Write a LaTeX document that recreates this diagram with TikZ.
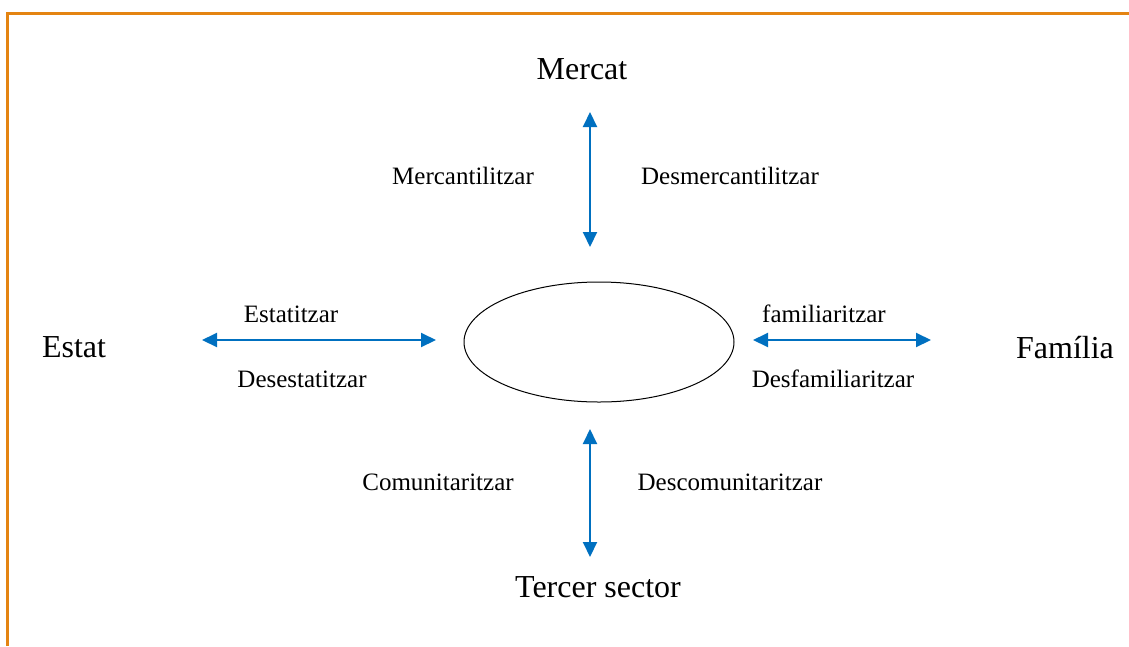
\documentclass[tikz,border=0pt]{standalone}
\usepackage{fontspec}
\setmainfont{Liberation Serif}
\usetikzlibrary{arrows.meta,shapes.geometric}
\definecolor{taronja}{RGB}{228,132,18}
\definecolor{blauf}{RGB}{0,112,192}

\begin{document}
\begin{tikzpicture}[
        % --- UNITATS: 1 punt = 1 píxel de la imatge ---
        x=1pt, y=-1pt,
        % Estil per als quatre pols (text gran)
        pol/.style={
            anchor=base,
            inner sep=0pt,
            font=\fontsize{32}{38}\selectfont
        },
        % Estil per a les etiquetes dels processos
        proces/.style={
            anchor=base,
            inner sep=0pt,
            font=\fontsize{25}{30}\selectfont
        },
        % Estil per a les fletxes dobles
        fletxa/.style={
            {Triangle[length=15pt,width=14pt]}-{Triangle[length=15pt,width=14pt]},
            line width=2pt,
            blauf
        },
        % Estil per al marc taronja
        marc/.style={
            line width=3pt,
            taronja
        }
    ]

    % --- MARC ---
    \useasboundingbox (0,0) rectangle (1129,646);
    \coordinate (mA) at (7,646);
    \coordinate (mB) at (7,13);
    \coordinate (mC) at (1129,13);
    \draw[marc] (mA) -- (mB) -- (mC);

    % --- CENTRE ---
    \node[draw, ellipse, line width=1pt, minimum width=270pt, minimum height=120pt,
          inner sep=0pt] (centre) at (599,342) {};

    % --- POLS ---
    \node[pol] (mercat) at (582,79) {Mercat};
    \node[pol] (estat) at (74,357) {Estat};
    \node[pol] (familia) at (1065,358) {Família};
    \node[pol] (tercer) at (598,597) {Tercer sector};

    % --- EXTREMS DE LES FLETXES ---
    \coordinate (dalt1) at (590,112);
    \coordinate (dalt2) at (590,247);
    \coordinate (baix1) at (590,429);
    \coordinate (baix2) at (590,557);
    \coordinate (esq1) at (202,340);
    \coordinate (esq2) at (436,340);
    \coordinate (dre1) at (753,340);
    \coordinate (dre2) at (931,340);

    % --- FLETXES ---
    \draw[fletxa] (dalt1) -- (dalt2);
    \draw[fletxa] (baix1) -- (baix2);
    \draw[fletxa] (esq1) -- (esq2);
    \draw[fletxa] (dre1) -- (dre2);

    % --- ETIQUETES ---
    \node[proces] (merc) at (463,184) {Mercantilitzar};
    \node[proces] (desmerc) at (730,184) {Desmercantilitzar};
    \node[proces] (estatit) at (291,322) {Estatitzar};
    \node[proces] (desestat) at (302,387) {Desestatitzar};
    \node[proces] (famil) at (824,322) {familiaritzar};
    \node[proces] (desfamil) at (833,387) {Desfamiliaritzar};
    \node[proces] (comun) at (438,490) {Comunitaritzar};
    \node[proces] (descomun) at (730,490) {Descomunitaritzar};

    \end{tikzpicture}
\end{document}
